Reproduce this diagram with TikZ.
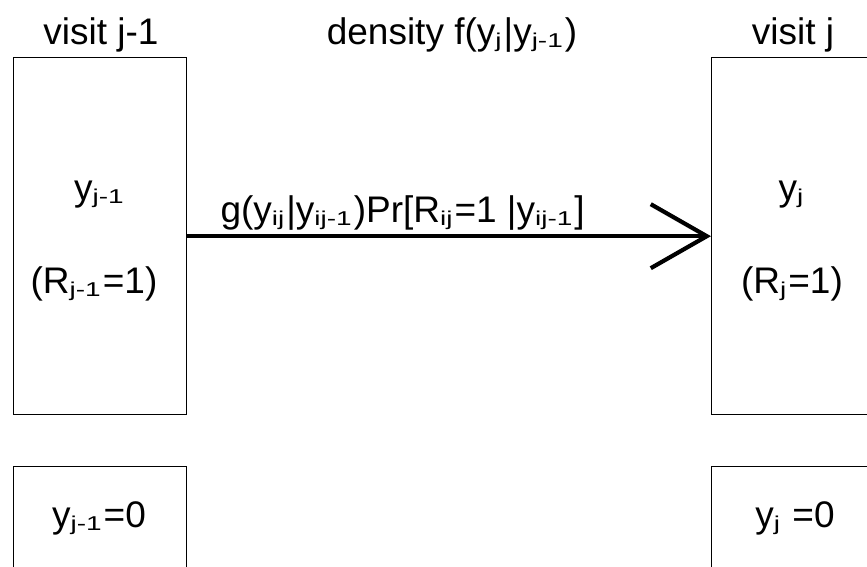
\documentclass[tikz,border=0pt]{standalone}
\usepackage{fontspec}
\setmainfont{Liberation Sans}
\usetikzlibrary{arrows.meta}
% small, lowered, slightly widened subscript
\newcommand\sbs[1]{\raisebox{-3pt}{\scalebox{1.4}[1]{\fontsize{20}{20}\selectfont #1}}\kern2pt\relax}
\begin{document}
\begin{tikzpicture}[x=1pt,y=-1pt,
  every node/.style={font=\fontsize{37}{40}\selectfont, inner sep=0pt},
  box/.style={draw, line width=1.4pt, minimum width=173pt, anchor=north west},
  lbl/.style={anchor=base}]
\useasboundingbox (0,0) rectangle (867,567);
% visit boxes
\node[box, minimum height=357pt] (lbox) at (13,57) {};
\node[box, minimum height=357pt] (rbox) at (711,57) {};
\node[box, minimum height=160pt] (lzero) at (13,466) {};
\node[box, minimum height=160pt] (rzero) at (711,466) {};
% headings
\node[lbl] (hl) at (101,45) {visit j-1};
\node[lbl] (hm) at (452,45) {density f(y\sbs{j}|y\sbs{j-1})};
\node[lbl] (hr) at (793,45) {visit j};
% box contents
\node[lbl] (ly) at (100,200) {y\sbs{j-1}};
\node[lbl] (lr) at (94,293) {(R\sbs{j-1}=1)};
\node[lbl] (ry) at (792,200) {y\sbs{j}};
\node[lbl] (rr) at (792,293) {(R\sbs{j}=1)};
\node[lbl] (lz) at (99,527) {y\sbs{j-1}=0};
\node[lbl] (rz) at (795,527) {y\sbs{j} =0};
% transition
\draw[line width=4.2pt, -{Straight Barb[length=56pt,width=64pt]}] (lbox.east) -- (rbox.west)
  node[pos=0, anchor=base west, xshift=31pt, yshift=14pt] (g)
  {g(y\sbs{ij}|y\sbs{ij-1})Pr[R\sbs{ij}=1 |y\sbs{ij-1}]};
\end{tikzpicture}
\end{document}
